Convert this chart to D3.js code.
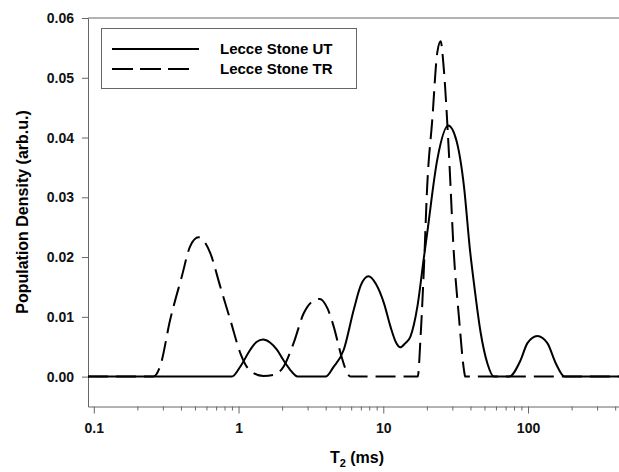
<!DOCTYPE html>
<html>
<head>
<meta charset="utf-8">
<script src="https://cdn.jsdelivr.net/npm/d3@7"></script>
<style>
  body { margin: 0; background: #fff; }
  svg { display: block; font-family: Arial, "Liberation Sans", sans-serif; }
  .axis path, .axis line { stroke: #666; }
  .axis text { font-size: 14px; font-weight: bold; fill: #111; }
</style>
</head>
<body>
<svg id="chart"></svg>
<script>
// T2 (ms) and population density
const utT2  = [0.0912, 0.90, 1.03, 1.205, 1.33, 1.48, 1.65, 1.84, 2.05, 2.28, 2.5, 2.6,
               4.0, 4.5, 5.33, 6.25, 7.0, 7.9, 8.9, 10.1, 11.2, 12.2, 13.1, 14.2, 15.4, 17.2, 19.0,
               20.1, 23.6, 28.1, 32.0, 36.1, 39.7, 42.3, 47.1, 52.4, 58.2,
               74, 89, 99, 116, 136, 155.6, 179, 425];
const utVal = [0, 0, 0.0017, 0.0045, 0.0058, 0.0062, 0.0057, 0.0045, 0.0027, 0.0011, 0.0001, 0,
               0, 0.0015, 0.0045, 0.0112, 0.0153, 0.0168, 0.0155, 0.0123, 0.0084, 0.0058, 0.0049, 0.0056, 0.0067, 0.0117, 0.0196,
               0.0240, 0.0363, 0.0420, 0.0395, 0.0318, 0.0212, 0.0156, 0.0073, 0.0022, 0,
               0, 0.0028, 0.0056, 0.0068, 0.0056, 0.0022, 0, 0];

const trT2  = [0.0912, 0.258, 0.287, 0.337, 0.406, 0.463, 0.529, 0.637, 0.747, 0.877, 1.03, 1.11,
               1.27, 1.49, 1.75, 2.05, 2.40, 2.82, 3.2, 3.64, 4.1, 4.54, 5.11, 5.5, 5.93,
               17.3, 18.1, 19.1, 20.1, 21.8, 23.6, 24.9, 26.2, 28.4, 30.7, 33.3, 36.1, 36.8, 425];
const trVal = [0, 0, 0.0017, 0.0095, 0.0168, 0.0218, 0.0233, 0.0207, 0.0151, 0.0095, 0.0039, 0.0021,
               0.0006, 0.0001, 0.0003, 0.0017, 0.0056, 0.0106, 0.0125, 0.0130, 0.0115, 0.0084, 0.0036, 0.0012, 0,
               0, 0.0067, 0.0184, 0.0318, 0.0430, 0.0542, 0.0561, 0.0514, 0.0374, 0.0207, 0.0100, 0.0011, 0, 0];

const seriesNames = ["Lecce Stone UT", "Lecce Stone TR"];
const xMajorTicks = [0.1, 1, 10, 100];
const xMinorTicks = [0.2, 0.3, 0.4, 0.5, 0.6, 0.7, 0.8, 0.9, 2, 3, 4, 5, 6, 7, 8, 9,
                     20, 30, 40, 50, 60, 70, 80, 90, 200, 300, 400];
const yTicks = [0, 0.01, 0.02, 0.03, 0.04, 0.05, 0.06];

class t2Chart {
    constructor(_config) {
        this.config = {
            parentElement: _config.parentElement,
            containerWidth: _config.containerWidth || 619,
            containerHeight: _config.containerHeight || 472,
            margin: _config.margin || {top: 18, right: 0, bottom: 65.5, left: 88}
        };
        this.initVis();
    }

    initVis() {
        let vis = this;
        vis.width = vis.config.containerWidth - vis.config.margin.left - vis.config.margin.right;
        vis.height = vis.config.containerHeight - vis.config.margin.top - vis.config.margin.bottom;

        vis.xScale = d3.scaleLog().domain([0.0912, 425]).range([0, vis.width]);
        vis.yScale = d3.scaleLinear().domain([-0.005, 0.06]).range([vis.height, 0]);

        vis.svg = d3.select(vis.config.parentElement)
            .attr('width', vis.config.containerWidth)
            .attr('height', vis.config.containerHeight);

        vis.chart = vis.svg.append('g')
            .attr('transform', `translate(${vis.config.margin.left},${vis.config.margin.top})`);

        // top frame line
        vis.chart.append('line')
            .attr('x1', 0).attr('x2', vis.width)
            .attr('y1', 0).attr('y2', 0)
            .attr('stroke', '#666');

        // minor x ticks
        vis.chart.append('g')
            .attr('class', 'axis')
            .attr('transform', `translate(0,${vis.height})`)
            .call(d3.axisBottom(vis.xScale).tickValues(xMinorTicks).tickSize(4).tickFormat(''))
            .call(g => g.select('.domain').remove());

        vis.chart.append('g')
            .attr('class', 'axis x-axis')
            .attr('transform', `translate(0,${vis.height})`)
            .call(d3.axisBottom(vis.xScale).tickValues(xMajorTicks).tickSize(7).tickSizeOuter(0)
                .tickPadding(10).tickFormat(d3.format('~g')));

        vis.chart.append('g')
            .attr('class', 'axis y-axis')
            .call(d3.axisLeft(vis.yScale).tickValues(yTicks).tickSize(6).tickSizeOuter(0)
                .tickPadding(8).tickFormat(d3.format('.2f')));

        // axis titles
        const xt = vis.svg.append('text')
            .attr('x', 357).attr('y', 463)
            .attr('text-anchor', 'middle')
            .style('font-size', '16px').style('font-weight', 'bold');
        xt.append('tspan').text('T');
        xt.append('tspan').attr('dy', 4).style('font-size', '11px').text('2');
        xt.append('tspan').attr('dy', -4).text(' (ms)');

        vis.svg.append('text')
            .attr('transform', 'translate(28,212) rotate(-90)')
            .attr('text-anchor', 'middle')
            .style('font-size', '16px').style('font-weight', 'bold')
            .text('Population Density (arb.u.)');

        vis.line = d3.line()
            .x(d => vis.xScale(d[0]))
            .y(d => vis.yScale(d[1]))
            .curve(d3.curveMonotoneX);

        vis.renderVis();
    }

    renderVis() {
        let vis = this;
        const ut = utT2.map((t, i) => [t, utVal[i]]);
        const tr = trT2.map((t, i) => [t, trVal[i]]);

        vis.chart.append('path')
            .datum(ut)
            .attr('d', vis.line)
            .attr('fill', 'none').attr('stroke', '#000').attr('stroke-width', 2);

        vis.chart.append('path')
            .datum(tr)
            .attr('d', vis.line)
            .attr('fill', 'none').attr('stroke', '#000').attr('stroke-width', 2)
            .attr('stroke-dasharray', '20,8');

        // legend
        const lg = vis.svg.append('g');
        lg.append('rect')
            .attr('x', 101.5).attr('y', 28.5).attr('width', 255).attr('height', 60)
            .attr('fill', '#fff').attr('stroke', '#666');
        seriesNames.forEach((name, i) => {
            lg.append('line')
                .attr('x1', 112).attr('x2', i ? 190 : 199)
                .attr('y1', 49 + i * 20).attr('y2', 49 + i * 20)
                .attr('stroke', '#000').attr('stroke-width', 2)
                .attr('stroke-dasharray', i ? '21,7' : null);
            lg.append('text')
                .attr('x', 220).attr('y', 54 + i * 20)
                .style('font-size', '15px').style('font-weight', 'bold')
                .text(name);
        });
    }
}

new t2Chart({parentElement: '#chart'});
</script>
</body>
</html>
